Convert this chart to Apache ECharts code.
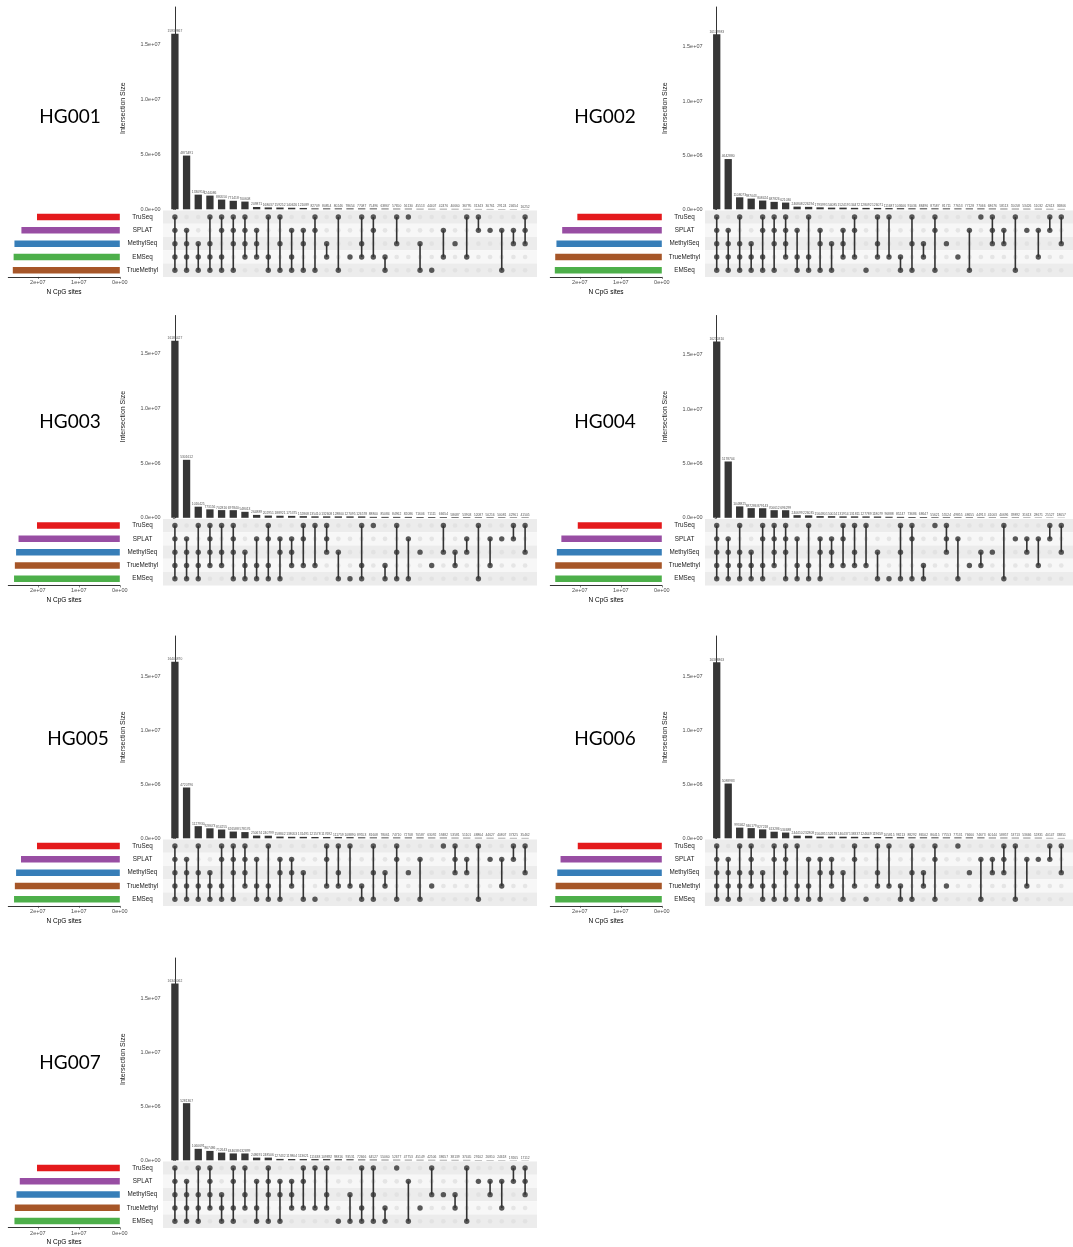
<!DOCTYPE html>
<html><head><meta charset="utf-8">
<script src="https://cdn.jsdelivr.net/npm/echarts@6/dist/echarts.min.js"></script>
<style>html,body{margin:0;padding:0;background:#fff}#c{width:1073px;height:1247px}</style>
</head><body><div id="c"></div><script>
// ---------- DATA ----------
const hg001Sets = ['TruSeq','SPLAT','MethylSeq','EMSeq','TrueMethyl'];
const hg001SetSizes = [2.02e7, 2.40e7, 2.57e7, 2.59e7, 2.61e7];
const hg001Sizes = [15939867,4875491,1330914,1244086,880550,771418,700608,209871,168037,159252,140626,121089,82709,80854,80246,78654,77087,75496,63867,57650,56130,45513,44407,42476,40660,36795,31343,30761,29124,24654,16252];
const hg001Combos = ['11111','01111','00111','10111','11011','11101','11110','01110','10011','10101','01011','01101','11001','00110','10001','00010','10110','11010','00011','10100','10000','00101','00001','01010','00100','10010','11000','01000','01001','01100','11100'];

const hg002Sets = ['TruSeq','SPLAT','MethylSeq','TrueMethyl','EMSeq'];
const hg002SetSizes = [2.06e7, 2.43e7, 2.57e7, 2.60e7, 2.61e7];
const hg002Sizes = [16179983,4642880,1108073,987043,808424,687826,621030,246808,226294,179399,154085,152419,134472,128092,126071,111687,103606,91036,88496,87587,81711,77653,77128,77066,68676,58113,55058,53426,51032,42613,36806];
const hg002Combos = ['11111','01111','10111','00111','11011','11101','11110','01011','10011','01101','00101','01110','11010','00001','10110','10010','00011','10101','00110','11001','00100','00010','01001','10000','11100','01100','10001','01000','01010','11000','10100'];

const hg003Sets = ['TruSeq','SPLAT','MethylSeq','TrueMethyl','EMSeq'];
const hg003SetSizes = [2.02e7, 2.47e7, 2.53e7, 2.56e7, 2.58e7];
const hg003Sizes = [16186427,5301612,1016425,773156,702816,697840,548013,264889,202951,188921,175375,152868,135410,132608,128800,127095,126578,88800,85084,84962,82086,71606,71111,66654,58687,53903,52087,50216,50081,42961,41505];
const hg003Combos = ['11111','01111','10111','11110','10110','11101','00111','01011','11011','01101','01110','11010','10010','11100','00101','00001','10011','10000','00011','10101','01001','00100','00010','10100','00110','01100','10001','01010','01000','11000','10100'];

const hg004Sets = ['TruSeq','SPLAT','MethylSeq','TrueMethyl','EMSeq'];
const hg004SetSizes = [2.05e7, 2.45e7, 2.56e7, 2.60e7, 2.60e7];
const hg004Sizes = [16210310,5178704,1048825,887286,879143,700612,696299,240699,226035,156480,150024,131914,131811,127789,118079,96888,85247,73686,68647,55621,55524,49855,48655,44913,41003,40696,39892,31613,28671,25527,18657];
const hg004Combos = ['11111','01111','10111','00111','11011','11110','11101','01011','10011','01101','01110','11010','10110','10010','00101','00001','10101','11001','00011','10000','11100','01001','00010','00110','00100','10001','01000','01100','01010','11000','10100'];

const hg005Sets = ['TruSeq','SPLAT','MethylSeq','TrueMethyl','EMSeq'];
const hg005SetSizes = [2.02e7, 2.41e7, 2.53e7, 2.56e7, 2.58e7];
const hg005Sizes = [16406870,4720796,1127930,928673,814255,626588,578176,250674,240799,158842,138053,131491,121578,117692,111759,108890,89553,81608,78061,74710,72708,70587,63092,59482,53581,51101,48864,44627,40807,37325,35462];
const hg005Combos = ['11111','01111','10111','00111','11011','11101','11110','01011','10011','01101','01110','00101','00001','11010','10110','10010','00011','10101','00110','11001','00100','01001','00010','10000','11100','01100','10001','01000','01010','11000','10100'];

const hg006Sets = ['TruSeq','SPLAT','MethylSeq','TrueMethyl','EMSeq'];
const hg006SetSizes = [2.05e7, 2.47e7, 2.55e7, 2.59e7, 2.60e7];
const hg006Sizes = [16368863,5088983,993462,946179,827218,613286,534688,244410,232808,156485,152678,146437,138337,124649,119659,105815,98213,88292,86502,86415,77553,77131,76660,74673,60144,58857,53713,53666,52831,40147,33851];
const hg006Combos = ['11111','01111','10111','11110','00111','11011','11101','10011','01011','01101','01110','00101','11010','00001','10110','10010','00011','10101','00110','11001','00010','10000','00100','01001','01100','11100','10001','01010','01000','11000','10100'];

const hg007Sets = ['TruSeq','SPLAT','MethylSeq','TrueMethyl','EMSeq'];
const hg007SetSizes = [2.02e7, 2.44e7, 2.52e7, 2.56e7, 2.57e7];
const hg007Sizes = [16346062,5281367,1060691,867486,712643,634638,632899,248691,248506,127432,119804,113621,111638,109892,98816,93531,72666,64527,55060,52677,47753,45149,42506,38657,38139,37445,29102,26810,24618,19265,17112];
const hg007Combos = ['11111','01111','10111','11110','00111','11011','10110','01011','11101','01101','01110','11010','10010','10110','00001','00101','10011','10101','00011','10000','01001','00010','10100','00100','00110','10001','01000','01100','01010','11000','11100'];

const panelNames = ['HG001','HG002','HG003','HG004','HG005','HG006','HG007'];
const setColors = {TruSeq:'#E41A1C', SPLAT:'#984EA3', MethylSeq:'#377EB8', EMSeq:'#4DAF4A', TrueMethyl:'#A65628'};

const panels = [
  {sets:hg001Sets, setSizes:hg001SetSizes, sizes:hg001Sizes, combos:hg001Combos},
  {sets:hg002Sets, setSizes:hg002SetSizes, sizes:hg002Sizes, combos:hg002Combos},
  {sets:hg003Sets, setSizes:hg003SetSizes, sizes:hg003Sizes, combos:hg003Combos},
  {sets:hg004Sets, setSizes:hg004SetSizes, sizes:hg004Sizes, combos:hg004Combos},
  {sets:hg005Sets, setSizes:hg005SetSizes, sizes:hg005Sizes, combos:hg005Combos},
  {sets:hg006Sets, setSizes:hg006SetSizes, sizes:hg006Sizes, combos:hg006Combos},
  {sets:hg007Sets, setSizes:hg007SetSizes, sizes:hg007Sizes, combos:hg007Combos}
];

// ---------- LAYOUT ----------
const layout = [
  {px:0,   py:0,     yMax:18.36e6, tx:70,  ty:117},
  {px:542, py:0,     yMax:18.69e6, tx:605, ty:117},
  {px:0,   py:308.5, yMax:18.5e6,  tx:70,  ty:422},
  {px:542, py:308.5, yMax:18.6e6,  tx:605, ty:422},
  {px:0,   py:629,   yMax:18.8e6,  tx:78,  ty:739},
  {px:542, py:629,   yMax:18.8e6,  tx:605, ty:739},
  {px:0,   py:951,   yMax:18.7e6,  tx:70,  ty:1063}
];

function sci(v, d) {
  if (v === 0) return (0).toFixed(d) + 'e+00';
  const e = Math.floor(Math.log10(v) + 1e-9);
  const m = v / Math.pow(10, e);
  return m.toFixed(d) + 'e+' + String(e).padStart(2, '0');
}

const FONT = 'Liberation Sans, Arial, sans-serif';
const grid = [], xAxis = [], yAxis = [], series = [], graphic = [];

panels.forEach((p, k) => {
  const L = layout[k];
  const gBar = 3*k, gMat = 3*k+1, gSet = 3*k+2;
  const nCol = p.sizes.length;
  grid.push({left: L.px + 163, top: L.py + 7, width: 374, height: 202.3});
  grid.push({left: L.px + 163, top: L.py + 210.4, width: 374, height: 66.5});
  grid.push({left: L.px + 8.3, top: L.py + 210.4, width: 111.5, height: 66.5});

  // bar chart axes
  xAxis.push({gridIndex: gBar, type: 'value', min: -1.02, max: nCol + 0.02, show: false});
  yAxis.push({gridIndex: gBar, type: 'value', min: 0, max: L.yMax,
    name: 'Intersection Size', nameLocation: 'middle', nameGap: 36,
    nameTextStyle: {fontSize: 7, color: '#222', fontFamily: FONT},
    axisLine: {show: true, lineStyle: {color: '#000', width: 0.8}},
    axisTick: {show: true, length: 2, customValues: [0, 5e6, 1e7, 1.5e7], lineStyle: {color: '#333', width: 0.6}},
    axisLabel: {customValues: [0, 5e6, 1e7, 1.5e7], fontSize: 5.5, color: '#4d4d4d', margin: 2.5, fontFamily: FONT,
      formatter: v => sci(v, 1)},
    splitLine: {show: false}
  });
  // matrix axes
  xAxis.push({gridIndex: gMat, type: 'value', min: -1.02, max: nCol + 0.02, show: false});
  yAxis.push({gridIndex: gMat, type: 'category', data: p.sets, inverse: true,
    axisLine: {show: false}, axisTick: {show: false},
    axisLabel: {align: 'center', margin: 20.5, fontSize: 6.3, color: '#1a1a1a', fontFamily: FONT},
    splitArea: {show: true, areaStyle: {color: ['#ececec', '#f7f7f7']}},
    splitLine: {show: false}
  });
  // set size axes
  xAxis.push({gridIndex: gSet, type: 'value', min: 0, max: 2.72e7, inverse: true,
    name: 'N CpG sites', nameLocation: 'middle', nameGap: 11.5,
    nameTextStyle: {fontSize: 6.5, color: '#000', fontFamily: FONT},
    axisLine: {show: true, lineStyle: {color: '#000', width: 0.8}},
    axisTick: {show: true, length: 2, customValues: [0, 1e7, 2e7], lineStyle: {color: '#333', width: 0.6}},
    axisLabel: {customValues: [0, 1e7, 2e7], fontSize: 5.5, color: '#4d4d4d', margin: 2.5, fontFamily: FONT,
      formatter: v => sci(v, 0)},
    splitLine: {show: false}
  });
  yAxis.push({gridIndex: gSet, type: 'category', data: p.sets, inverse: true,
    axisLine: {show: false}, axisTick: {show: false}, axisLabel: {show: false}, splitLine: {show: false}});

  // intersection bars
  series.push({type: 'bar', xAxisIndex: gBar, yAxisIndex: gBar, barWidth: 7.3,
    data: p.sizes.map((v, i) => [i, v]),
    itemStyle: {color: '#363636'},
    label: {show: true, position: 'top', distance: 1, fontSize: 3.3, color: '#555', fontFamily: FONT,
      formatter: q => String(q.value[1])},
    silent: true
  });

  // matrix
  const empty = [], filled = [], segs = [];
  p.combos.forEach((c, i) => {
    const rows = [];
    for (let r = 0; r < p.sets.length; r++) {
      empty.push([i, r]);
      if (c[r] === '1') { filled.push([i, r]); rows.push(r); }
    }
    if (rows.length > 1) segs.push([i, Math.min(...rows), Math.max(...rows)]);
  });
  series.push({type: 'scatter', xAxisIndex: gMat, yAxisIndex: gMat, data: empty,
    symbolSize: 4.6, itemStyle: {color: '#e0e0e0'}, z: 2, silent: true});
  series.push({type: 'custom', xAxisIndex: gMat, yAxisIndex: gMat, data: segs, z: 3, silent: true,
    encode: {x: 0, y: [1, 2]},
    renderItem: (params, api) => {
      const a = api.coord([api.value(0), api.value(1)]);
      const b = api.coord([api.value(0), api.value(2)]);
      return {type: 'line', shape: {x1: a[0], y1: a[1], x2: b[0], y2: b[1]},
        style: {stroke: '#333', lineWidth: 1.6}};
    }
  });
  series.push({type: 'scatter', xAxisIndex: gMat, yAxisIndex: gMat, data: filled,
    symbolSize: 5.4, itemStyle: {color: '#333'}, z: 4, silent: true});

  // set size bars
  series.push({type: 'bar', xAxisIndex: gSet, yAxisIndex: gSet, barWidth: 6.5,
    data: p.setSizes.map((v, i) => ({value: v, itemStyle: {color: setColors[p.sets[i]]}})),
    silent: true});

  graphic.push({type: 'text', x: L.tx, y: L.ty, z: 10,
    style: {text: panelNames[k], fontSize: 19, fontFamily: 'Lato, "Open Sans", sans-serif', fill: '#000',
      textAlign: 'center', textVerticalAlign: 'middle', align: 'center', verticalAlign: 'middle'}});
});

const chart = echarts.init(document.getElementById('c'), null, {renderer: 'canvas'});
chart.setOption({animation: false, backgroundColor: '#fff', grid, xAxis, yAxis, series, graphic});
</script></body></html>
